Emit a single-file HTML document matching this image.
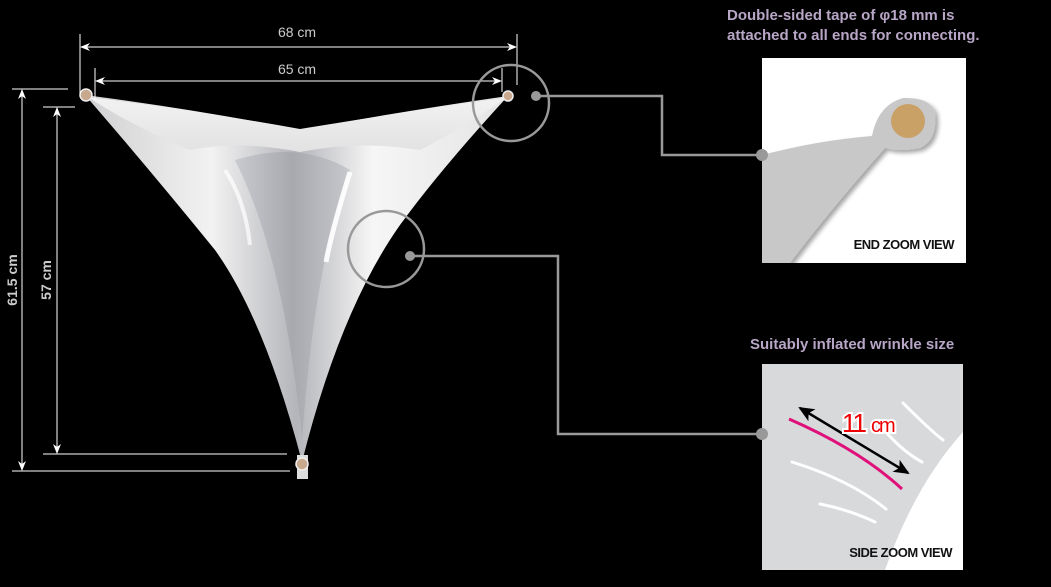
<!DOCTYPE html>
<html><head><meta charset="utf-8"><style>
html,body{margin:0;padding:0;background:#000;}
svg{display:block;}
text{font-family:"Liberation Sans",sans-serif;}
</style></head><body>
<svg width="1051" height="587" viewBox="0 0 1051 587" xmlns="http://www.w3.org/2000/svg">
<defs>
<marker id="ar" markerWidth="10" markerHeight="8" refX="9" refY="4" orient="auto-start-reverse" markerUnits="userSpaceOnUse"><path d="M0,0 L10,4 L0,8 L3,4 Z" fill="#fff"/></marker>
<marker id="bk" markerWidth="16" markerHeight="14" refX="14" refY="7" orient="auto-start-reverse" markerUnits="userSpaceOnUse"><path d="M0,0 L16,7 L0,14 L4,7 Z" fill="#000"/></marker>
<linearGradient id="g1" x1="0" y1="0" x2="1" y2="0">
<stop offset="0" stop-color="#d0d0d2"/><stop offset="0.3" stop-color="#f2f2f2"/><stop offset="0.5" stop-color="#b4b5ba"/><stop offset="0.68" stop-color="#f6f6f6"/><stop offset="1" stop-color="#e4e4e4"/></linearGradient>
<linearGradient id="g2" x1="0" y1="0" x2="0" y2="1">
<stop offset="0" stop-color="#f2f2f2"/><stop offset="1" stop-color="#e2e2e2"/></linearGradient>
<linearGradient id="g3" x1="0" y1="0" x2="1" y2="0">
<stop offset="0" stop-color="#c8cad0"/><stop offset="0.5" stop-color="#a8a9ae"/><stop offset="1" stop-color="#c6c8cc"/></linearGradient>
<filter id="sh"><feDropShadow dx="3" dy="3" stdDeviation="2" flood-color="#000" flood-opacity="0.35"/></filter>
</defs>

<!-- balloon -->
<path d="M85,95 Q200,110 300,130 Q410,110 508,96 Q440,170 400,225 Q340,310 302,462 Q265,320 215,250 Q150,170 85,95 Z" fill="url(#g1)"/>
<path d="M88,97 Q200,111 300,129 Q410,111 506,98 Q460,130 420,150 Q360,140 300,152 Q240,140 190,150 Q130,125 88,97 Z" fill="url(#g2)"/>
<path d="M235,160 Q300,140 350,170 Q315,260 302,440 Q285,260 235,160 Z" fill="url(#g3)"/>
<path d="M350,172 Q332,230 326,262" stroke="#fff" stroke-width="5" fill="none" opacity="0.9"/>
<path d="M225,170 Q245,200 250,245" stroke="#fff" stroke-width="4" fill="none" opacity="0.7"/>
<circle cx="86" cy="95" r="6" fill="#c9a98e" stroke="#eee" stroke-width="1.5"/>
<circle cx="508" cy="96" r="5" fill="#c9a98e" stroke="#eee" stroke-width="1.5"/>
<rect x="297" y="455" width="11" height="24" fill="#ddd"/>
<circle cx="302" cy="464" r="6" fill="#c9a98e" stroke="#eee" stroke-width="1.5"/>

<!-- dimensions -->
<g stroke="#fff" stroke-width="1" fill="none">
<line x1="80" y1="34" x2="80" y2="95"/>
<line x1="517" y1="34" x2="517" y2="85"/>
<line x1="95" y1="68" x2="95" y2="100"/>
<line x1="502" y1="68" x2="502" y2="92"/>
<line x1="81" y1="47" x2="516" y2="47" marker-start="url(#ar)" marker-end="url(#ar)"/>
<line x1="96" y1="81" x2="501" y2="81" marker-start="url(#ar)" marker-end="url(#ar)"/>
<line x1="12" y1="89" x2="68" y2="89"/>
<line x1="43" y1="107" x2="75" y2="107"/>
<line x1="43" y1="454" x2="287" y2="454"/>
<line x1="12" y1="471" x2="290" y2="471"/>
<line x1="22" y1="90" x2="22" y2="470" marker-start="url(#ar)" marker-end="url(#ar)"/>
<line x1="57" y1="108" x2="57" y2="453" marker-start="url(#ar)" marker-end="url(#ar)"/>
</g>
<text x="297" y="37" fill="#ccc" font-size="14" text-anchor="middle">68 cm</text>
<text x="297" y="74" fill="#ccc" font-size="14" text-anchor="middle">65 cm</text>
<text transform="translate(17,280) rotate(-90)" fill="#ccc" font-size="14" font-weight="bold" text-anchor="middle">61.5 cm</text>
<text transform="translate(51,280) rotate(-90)" fill="#ccc" font-size="14" font-weight="bold" text-anchor="middle">57 cm</text>

<!-- callouts -->
<g stroke="#999" stroke-width="2.5" fill="none">
<circle cx="511" cy="103" r="38"/>
<circle cx="386" cy="249" r="38"/>
<polyline points="540,96 662,96 662,155 762,155"/>
<polyline points="414,256 558,256 558,434 762,434"/>
</g>
<circle cx="536" cy="96" r="5" fill="#999"/>
<circle cx="410" cy="256" r="5" fill="#999"/>

<!-- end zoom box -->
<rect x="762" y="58" width="204" height="205" fill="#fff"/>
<path d="M762,155 Q820,140 872,136 Q878,105 903,98 Q930,97 935,112 Q938,140 920,148 Q900,152 885,148 Q830,210 790,263 L762,263 Z" fill="#c8c8c8" filter="url(#sh)"/>
<circle cx="908" cy="121" r="17" fill="#c9a066"/>
<circle cx="762" cy="155" r="6" fill="#999"/>
<text x="954" y="249" fill="#111" font-size="13" font-weight="bold" text-anchor="end" style="letter-spacing:-0.5px">END ZOOM VIEW</text>

<!-- side zoom box -->
<rect x="762" y="364" width="201" height="206" fill="#d8d9db"/>
<path d="M963,432 Q915,485 885,570 L963,570 Z" fill="#fff" filter="url(#sh)"/>
<g stroke="#fff" stroke-width="3" fill="none" stroke-linecap="round">
<path d="M903,403 Q930,430 943,440"/>
<path d="M880,425 Q900,450 922,462"/>
<path d="M792,462 Q850,480 886,509"/>
<path d="M820,504 Q850,510 875,522"/>
</g>
<path d="M789,419 Q860,450 902,489" stroke="#e0107a" stroke-width="3" fill="none"/>
<line x1="800" y1="408" x2="908" y2="473" stroke="#000" stroke-width="2.5" marker-start="url(#bk)" marker-end="url(#bk)"/>
<text x="842" y="432" fill="#e00" stroke="#fff" stroke-width="4" paint-order="stroke" font-size="26" style="letter-spacing:-2px">11<tspan font-size="20" dx="6">cm</tspan></text>
<circle cx="762" cy="434" r="6" fill="#999"/>
<text x="952" y="557" fill="#111" font-size="13" font-weight="bold" text-anchor="end" style="letter-spacing:-0.5px">SIDE ZOOM VIEW</text>

<!-- notes -->
<text x="727" y="20" fill="#b8a6c6" font-size="15" font-weight="bold">Double-sided tape of φ18 mm is</text>
<text x="727" y="40" fill="#b8a6c6" font-size="15" font-weight="bold">attached to all ends for connecting.</text>
<text x="750" y="349" fill="#b8a6c6" font-size="15" font-weight="bold">Suitably inflated wrinkle size</text>
</svg>
</body></html>
